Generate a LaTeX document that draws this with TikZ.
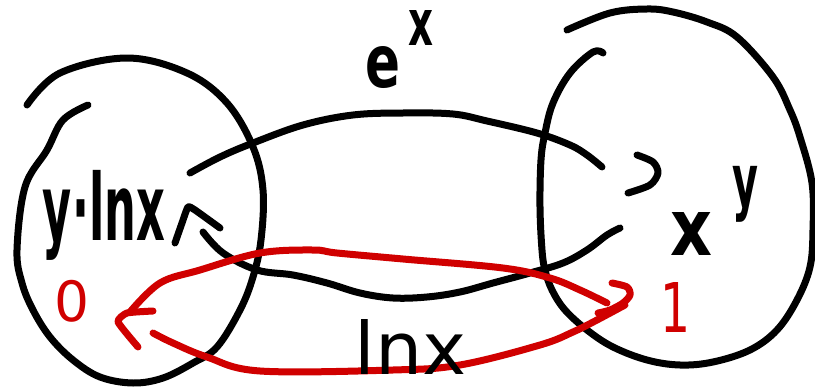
\documentclass[tikz,border=0pt]{standalone}
\usepackage{fontspec}
\setmainfont{DejaVu Sans}
\usepackage{graphicx}
\definecolor{redpen}{RGB}{208,0,0}
\newcommand{\hw}[3]{\resizebox*{#1pt}{#2pt}{#3}}
\begin{document}
\begin{tikzpicture}[x=1pt,y=-1pt,
  ink/.style={line width=7pt, line cap=round, line join=round},
  blk/.style={ink, draw=black},
  rd/.style={ink, draw=redpen},
  lbl/.style={inner sep=0pt, outer sep=0pt, font=\bfseries},
  lbn/.style={inner sep=0pt, outer sep=0pt}]
\useasboundingbox (0,0) rectangle (815,388);
% left set
\draw[blk] plot[smooth, tension=0.6] coordinates {(88,105) (63,120) (47,150) (25,187) (17,250) (22,283) (33,310) (50,337) (73,360) (100,377) (133,383) (163,378) (193,363) (217,347) (240,310) (253,277) (261,240) (263,190) (253,147) (227,103) (187,73) (127,58) (60,73) (27,105)};
% right set
\draw[blk] plot[smooth, tension=0.6] coordinates {(603,53) (593,52) (570,73) (553,103) (545,133) (541,160) (540,207) (542,250) (545,270) (552,290) (565,310) (587,330) (613,347) (647,360) (680,365) (713,362) (750,350) (777,330) (797,300) (810,267) (813,230) (812,183) (800,137) (790,110) (773,77) (737,37) (707,22) (673,12) (647,9) (610,13) (567,30)};
% upper black arc e^x
\draw[blk] plot[smooth, tension=0.6] coordinates {(190,173) (220,157) (253,143) (303,125) (353,115) (403,113) (453,114) (487,121) (537,133) (570,145) (587,155) (602,167)};
\draw[blk] plot[smooth, tension=0.5] coordinates {(637,155) (653,162) (658,173) (650,185) (628,193)};
% lower black arc
\draw[blk] plot[smooth, tension=0.6] coordinates {(203,232) (223,253) (257,270) (293,275) (327,283) (360,293) (393,298) (427,297) (460,292) (493,283) (530,273) (563,263) (587,250) (607,235) (620,228)};
\draw[blk] plot[smooth, tension=0.3] coordinates {(175,243) (182,223) (188,207) (195,210) (220,228)};
% red loop
\draw[rd] plot[smooth, tension=0.6] coordinates {(130,312) (160,283) (200,270) (260,253) (313,250) (337,253) (403,259) (503,268) (550,278) (580,290) (607,303)};
\draw[rd] plot[smooth, tension=0.6] coordinates {(153,333) (173,343) (207,357) (260,371) (393,370) (460,365) (540,345) (573,332) (597,320) (625,305)};
\draw[rd] plot[smooth, tension=0.3] coordinates {(153,311) (127,313) (118,322) (138,347)};
\draw[rd] plot[smooth, tension=0.5] coordinates {(612,283) (627,287) (630,295) (623,303) (610,310) (598,313)};
% labels
\node[lbl, anchor=base west] (ex) at (365,87) {\hw{35}{42}{e}\hspace{8pt}\raisebox{42pt}{\hw{25}{35}{x}}};
\node[lbl, anchor=base west] (xy) at (670,255) {\hw{42}{43}{x}\hspace{20pt}\raisebox{49pt}{\hw{26}{56}{y}}};
\node[lbl] (ylnx) at (104,215) {\hw{122}{90}{y·lnx}};
\node[lbn] (lnx) at (411,347) {\hw{112}{55}{lnx}};
\node[lbn, text=redpen] (zero) at (72,301) {\hw{35}{42}{0}};
\node[lbn, text=redpen] (one) at (675,307) {\hw{30}{50}{1}};
\end{tikzpicture}
\end{document}
